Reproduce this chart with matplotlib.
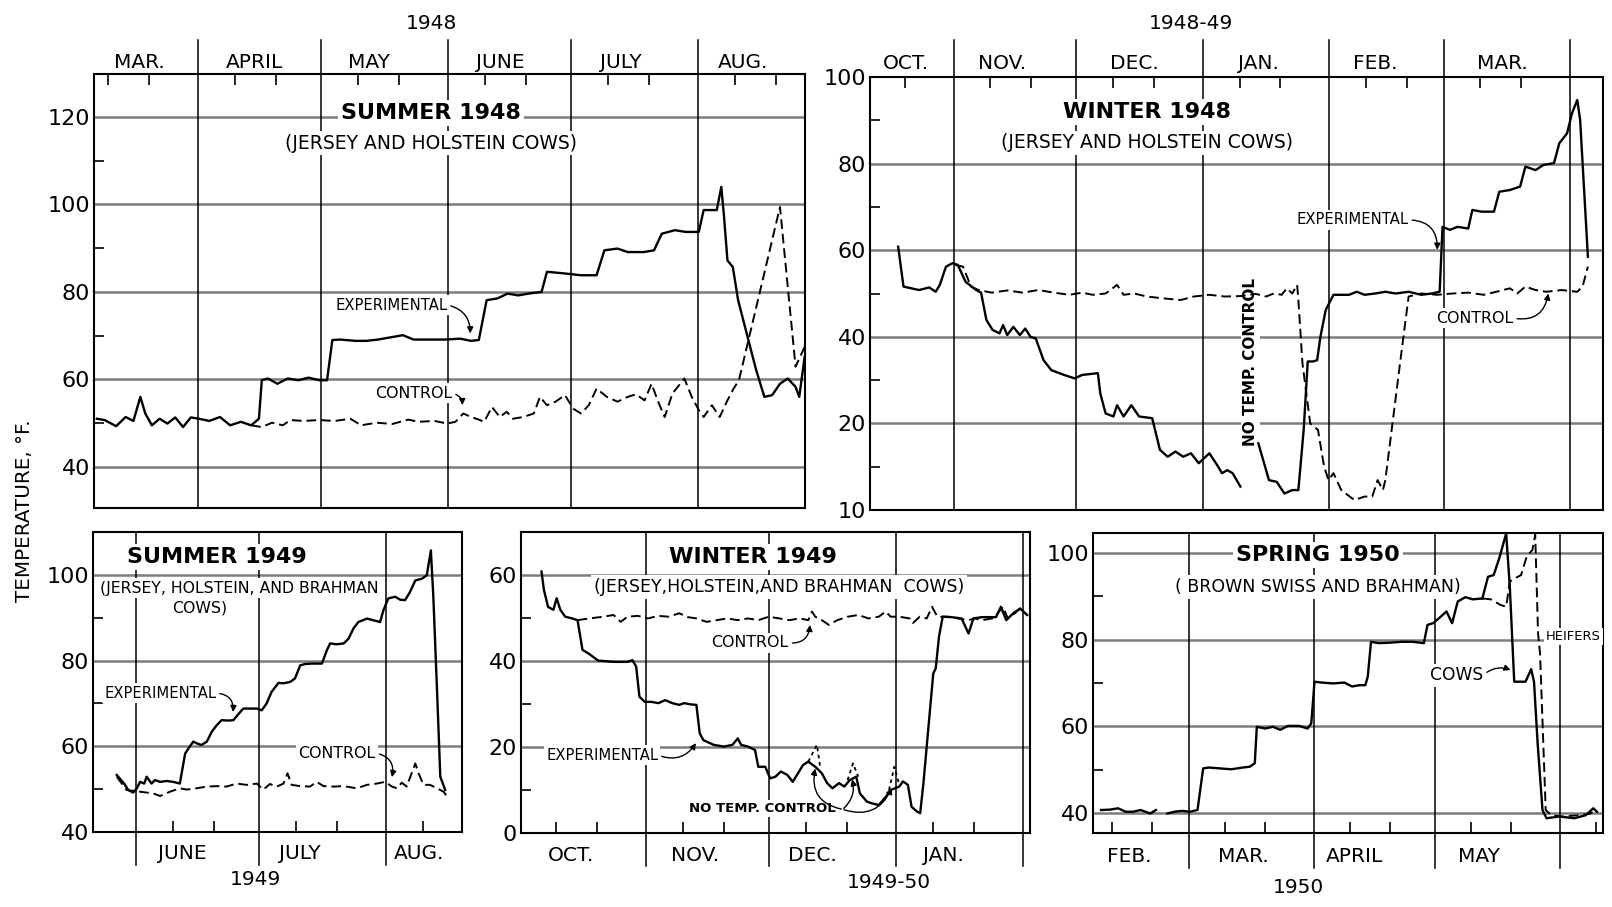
import numpy as np
import matplotlib
matplotlib.use("Agg")
import matplotlib.pyplot as plt
from matplotlib import font_manager

W, H = 1612, 907

# Summer 1948, days from 1 March 1948
s48_exp_day = [6.4, 8.3, 11.1, 13.4, 15.3, 17.0, 18.2, 19.8, 21.7, 23.6, 25.5, 27.4, 29.3, 31.3, 33.8,
               36.4, 38.9, 41.5, 44.0, 45.9, 46.6, 48.1, 50.4, 52.9, 55.5, 58.0, 60.6, 62.5, 63.8, 65.7,
               69.5, 72.1, 74.9, 81.0, 83.6, 87.4, 91.2, 95.0, 97.6, 99.5, 101.4, 104.0, 106.5, 109.1, 111.6,
               114.8, 116.1, 120.5, 124.4, 128.2, 130.1, 133.3, 135.8, 139.7, 142.2, 144.1, 147.3, 149.9, 153.1, 154.3,
               157.5, 158.6, 159.2, 160.1, 161.4, 162.7, 165.2, 167.1, 169.1, 171.0, 172.9, 174.8, 176.7, 177.6, 178.9]
s48_exp = [51.0, 50.7, 49.3, 51.4, 50.5, 56.0, 52.2, 49.5, 51.0, 49.9, 51.3, 49.1, 51.3, 51.0, 50.5,
           51.4, 49.5, 50.3, 49.5, 51.0, 59.8, 60.2, 59.0, 60.2, 59.8, 60.4, 59.8, 59.8, 69.0, 69.1,
           68.8, 68.8, 69.1, 70.1, 69.1, 69.1, 69.1, 69.3, 68.8, 69.0, 78.1, 78.5, 79.6, 79.2, 79.6,
           80.0, 84.6, 84.2, 83.8, 83.8, 89.5, 89.9, 89.1, 89.1, 89.5, 93.3, 94.1, 93.7, 93.7, 98.7,
           98.7, 104.0, 97.9, 87.2, 85.7, 78.1, 69.0, 62.1, 56.0, 56.4, 59.0, 60.2, 58.3, 56.0, 65.1]
s48_ctl_day = [44.0, 46.6, 49.1, 51.7, 53.6, 56.8, 60.6, 64.4, 68.2, 70.8, 74.6, 78.4, 82.3, 84.8, 88.7,
               91.8, 93.8, 95.7, 97.6, 99.5, 100.8, 102.7, 104.6, 106.3, 107.8, 110.3, 112.9, 114.4, 116.1, 118.2,
               120.5, 122.5, 124.4, 126.3, 128.2, 130.7, 133.3, 135.8, 137.8, 139.9, 141.6, 143.2, 144.8, 146.7, 148.0,
               149.6, 151.4, 153.1, 154.3, 156.3, 158.2, 160.1, 161.6, 162.9, 172.9, 176.7, 178.9]
s48_ctl = [49.5, 49.1, 50.1, 49.5, 50.7, 50.5, 50.7, 50.5, 51.0, 49.5, 50.1, 49.8, 50.8, 50.3, 50.5,
           49.9, 50.3, 52.2, 51.4, 50.8, 50.3, 53.7, 51.4, 52.6, 51.0, 51.4, 52.2, 56.0, 54.1, 54.9,
           56.4, 53.3, 52.2, 54.1, 57.9, 56.0, 54.9, 56.0, 56.6, 55.2, 59.0, 54.9, 51.4, 56.8, 58.3,
           60.2, 56.0, 53.0, 51.4, 54.1, 51.4, 55.2, 57.9, 59.8, 99.4, 62.9, 67.4]

# Winter 1948-49, days from 1 October 1948
w48_exp_day = [17.4, 18.7, 22.5, 25.0, 26.6, 27.6, 29.1, 30.7, 32.0, 33.9, 36.5, 37.7, 39.0, 40.5, 42.2,
               43.1, 44.1, 45.6, 47.2, 48.5, 49.8, 51.1, 53.0, 54.9, 58.0, 60.6, 62.5, 66.3, 66.9, 68.2,
               70.1, 71.0, 72.6, 74.5, 76.4, 79.6, 81.5, 83.4, 85.3, 87.2, 89.1, 91.0, 93.6, 95.5, 96.7,
               98.0, 99.3, 101.2, 103.0, 105.6, 108.2, 110.1, 112.0, 113.9, 115.4, 116.7, 117.7, 119.0, 120.0, 120.8,
               122.1, 124.0, 127.8, 129.7, 131.6, 134.2, 136.7, 139.2, 142.4, 145.5, 148.1, 150.0, 150.7, 152.5, 154.4,
               157.0, 158.0, 160.2, 163.3, 164.6, 167.2, 169.7, 171.0, 173.5, 175.4, 178.0, 179.3, 181.2, 182.4, 183.7,
               184.4, 186.3]
w48_exp = [60.8, 51.6, 50.8, 51.4, 50.4, 52.0, 56.2, 57.0, 56.6, 52.7, 50.8, 50.2, 43.9, 41.6, 40.8,
           42.7, 40.4, 42.3, 40.4, 41.9, 40.0, 39.6, 34.6, 32.3, 31.2, 30.4, 31.2, 31.6, 26.9, 22.3,
           21.6, 24.2, 21.6, 24.2, 21.6, 21.2, 13.9, 12.3, 13.5, 12.3, 13.1, 10.8, 13.1, 10.4, 8.5,
           9.2, 8.5, 5.4, None, 15.4, 6.9, 6.5, 3.8, 4.6, 4.6, 18.5, 34.3, 34.3, 34.6, 40.0,
           46.2, 49.7, 49.7, 50.4, 49.7, 50.0, 50.4, 50.0, 50.4, 49.7, 50.0, 50.4, 65.4, 64.7, 65.4,
           65.0, 69.3, 68.9, 68.9, 73.5, 73.9, 74.7, 79.3, 78.5, 79.7, 80.1, 84.7, 87.0, 91.6, 94.7,
           90.1, 58.5]
w48_ctl_day = [31.4, 33.3, 35.2, 37.1, 40.3, 44.1, 47.9, 51.7, 55.5, 59.3, 62.5, 65.0, 68.2, 71.0, 72.6,
               75.2, 78.3, 82.1, 86.6, 89.8, 93.6, 97.4, 101.2, 105.0, 107.5, 109.4, 111.3, 112.6, 113.9, 115.1,
               115.4, 116.4, 118.3, 120.2, 121.7, 122.8, 124.0, 125.9, 129.1, 131.6, 133.5, 134.8, 136.1, 136.7, 140.5,
               142.4, 145.5, 149.4, 153.2, 157.0, 160.8, 163.9, 167.2, 169.0, 171.0, 173.5, 176.1, 179.9, 183.7, 185.0,
               186.3]
w48_ctl = [56.6, 56.2, 51.6, 50.8, 50.2, 50.7, 50.2, 50.8, 50.2, 49.7, 50.2, 49.7, 50.0, 52.0, 49.7,
           50.0, 49.3, 48.9, 48.5, 49.3, 49.7, 49.3, 49.4, 49.9, 49.3, 50.0, 49.7, 51.2, 50.0, 52.0,
           48.5, 33.9, 20.0, 18.5, 10.0, 6.9, 8.5, 4.6, 2.3, 3.1, 3.1, 6.9, 4.6, 6.9, 35.4,
           49.3, 50.0, 49.7, 50.0, 50.2, 49.7, 50.4, 51.2, 50.0, 51.6, 50.8, 50.4, 50.8, 50.4, 51.6,
           56.2]

# Summer 1949, days from 1 June 1949
s49_exp_day = [-4.7, -2.9, -1.9, -0.7, 0.2, 1.0, 2.0, 2.6, 3.8, 4.6, 5.9, 7.5, 9.1, 10.7, 12.0,
               12.8, 14.0, 14.8, 16.0, 17.3, 18.5, 19.7, 20.9, 22.6, 23.8, 25.0, 26.2, 27.9, 29.5, 30.7,
               31.9, 33.1, 34.8, 36.0, 37.6, 38.8, 40.1, 41.3, 42.9, 45.4, 46.6, 47.4, 49.0, 50.7, 51.9,
               53.1, 54.3, 56.4, 58.0, 59.6, 60.4, 61.6, 63.3, 64.5, 65.7, 66.9, 68.2, 69.8, 71.0, 72.0,
               72.6, 73.5, 74.3, 75.5]
s49_exp = [53.3, 51.3, 49.8, 49.2, 50.2, 51.7, 51.3, 52.9, 51.3, 52.1, 51.7, 51.9, 51.7, 51.3, 58.3,
           59.5, 61.1, 60.7, 60.3, 61.1, 63.4, 64.9, 66.1, 66.0, 66.1, 67.5, 68.8, 68.8, 68.8, 68.4,
           70.0, 72.7, 74.8, 74.7, 75.0, 75.8, 78.9, 79.2, 79.3, 79.3, 82.4, 84.0, 83.8, 84.0, 85.1,
           87.5, 89.0, 89.8, 89.4, 89.0, 91.7, 94.5, 94.9, 94.2, 94.1, 96.0, 98.7, 99.1, 99.9, 105.7,
           94.9, 73.1, 52.9, 49.8]
s49_ctl_day = [-4.7, -2.3, 1.0, 4.2, 5.9, 8.3, 10.7, 12.4, 14.8, 17.3, 19.7, 22.1, 24.6, 27.0, 29.5,
               31.1, 32.7, 34.4, 36.0, 37.0, 38.0, 40.1, 42.5, 44.1, 45.8, 48.2, 50.7, 53.9, 56.4, 58.8,
               60.8, 62.5, 63.7, 64.9, 66.1, 67.3, 68.2, 69.0, 70.2, 71.8, 73.5, 75.1, 76.3]
s49_ctl = [52.9, 49.8, 49.4, 49.0, 48.4, 49.4, 50.2, 49.9, 50.2, 50.6, 50.7, 50.6, 51.3, 51.0, 51.3,
           49.9, 51.2, 50.6, 51.3, 53.7, 51.0, 50.7, 50.6, 51.7, 50.7, 50.6, 50.7, 50.2, 51.0, 51.3,
           51.7, 50.6, 50.2, 51.5, 50.6, 53.7, 56.0, 53.7, 51.0, 51.0, 50.2, 49.4, 47.8]

# Winter 1949-50, days from 1 October 1949
w49_exp_day = [5.5, 6.1, 7.1, 8.4, 9.2, 10.1, 11.3, 13.0, 14.3, 15.5, 17.2, 19.3, 23.1, 26.5, 27.7,
               28.6, 29.4, 30.7, 32.3, 34.0, 35.7, 37.4, 39.1, 40.3, 42.0, 43.3, 44.1, 45.0, 47.5, 50.0,
               52.1, 53.4, 54.2, 55.9, 57.6, 58.4, 60.1, 61.3, 62.6, 63.9, 65.5, 66.8, 68.1, 69.3, 70.6,
               72.3, 73.9, 75.2, 76.5, 78.1, 79.4, 80.7, 82.3, 83.2, 84.9, 86.1, 87.8, 89.5, 90.7, 92.8,
               93.7, 94.9, 95.8, 97.1, 97.9, 98.7, 100.0, 101.1, 101.7, 102.5, 103.4, 105.5, 108.0, 109.7, 110.9,
               113.0, 116.4, 117.6, 118.9, 120.6, 122.3, 124.0]
w49_exp = [60.8, 56.5, 52.6, 51.9, 54.6, 51.9, 50.3, 49.9, 49.5, 42.6, 41.6, 40.1, 39.8, 39.8, 40.2,
           38.7, 31.7, 30.5, 30.5, 30.2, 30.9, 30.2, 29.8, 30.2, 29.9, 29.8, 23.2, 21.6, 20.5, 20.1,
           20.5, 22.0, 20.5, 20.1, 19.3, 15.4, 15.4, 12.7, 13.1, 14.3, 13.5, 11.9, 13.9, 15.8, 16.6,
           15.4, 13.9, 11.6, 10.4, 11.6, 10.8, 12.3, 13.1, 9.2, 7.3, 6.9, 6.5, 8.4, 10.0, 10.8,
           12.0, 11.2, 6.1, 5.0, 4.6, 11.6, 25.5, 37.1, 38.3, 45.7, 50.3, 50.2, 49.9, 46.4, 49.9,
           50.2, 50.2, 52.6, 49.5, 51.1, 52.2, 50.7]
w49_free_day = [70.6, 72.7, 73.5, 76.0, 80.2, 81.5, 82.8, 86.0, 90.3, 91.6, 92.7]
w49_free = [16.6, 20.5, 15.4, None, 12.3, 16.2, 13.1, None, 10.0, 15.4, 11.6]
w49_ctl_day = [14.3, 17.2, 20.6, 23.1, 24.8, 26.5, 29.0, 31.5, 34.0, 36.5, 39.1, 41.2, 43.3, 45.8, 48.3,
               50.8, 53.4, 55.9, 58.4, 61.0, 63.5, 66.0, 68.5, 70.6, 71.5, 72.3, 73.9, 75.6, 77.7, 80.2,
               82.8, 85.3, 87.8, 89.5, 90.7, 92.8, 95.3, 96.1, 97.8, 99.5, 100.8, 102.1, 104.6, 107.1, 109.7,
               111.3, 113.0, 115.5, 116.8, 118.1, 119.3, 121.0, 122.3, 124.0]
w49_ctl = [49.5, 49.9, 50.3, 50.7, 49.1, 50.3, 50.5, 49.9, 50.5, 50.3, 51.1, 50.2, 49.9, 49.1, 49.5,
           49.9, 49.5, 49.9, 49.5, 50.3, 49.9, 49.5, 49.9, 49.5, 51.5, 50.3, 49.5, 48.4, 49.5, 50.3,
           50.7, 49.9, 50.3, 51.5, 50.3, 50.3, 49.9, 48.8, 50.3, 49.9, 52.6, 50.3, 50.3, 49.9, 49.5,
           49.9, 49.5, 49.9, 51.1, 52.6, 49.9, 51.1, 52.2, 50.7]

# Spring 1950, days from 1 February 1950
sp50_day = [6.3, 8.6, 10.5, 12.4, 14.2, 16.1, 18.5, 19.9, 21.3, 22.7, 24.5, 26.4, 28.3, 30.2, 31.6,
            33.0, 35.8, 38.6, 41.4, 43.2, 44.4, 44.9, 47.0, 48.9, 50.7, 52.6, 55.4, 57.5, 58.4, 59.2,
            61.0, 63.8, 66.6, 68.5, 70.4, 71.8, 72.4, 73.2, 75.1, 77.9, 80.7, 83.5, 86.3, 87.2, 88.6,
            90.0, 91.9, 93.3, 94.7, 96.6, 98.4, 100.8]
sp50_both = [40.7, 40.8, 41.1, 40.3, 40.3, 40.7, 39.9, 40.7, None, 39.9, 40.3, 40.5, 40.3, 40.7, 50.3,
             50.5, 50.3, 50.1, 50.5, 50.7, 51.5, 59.9, 59.5, 59.9, 59.2, 60.1, 60.1, 59.5, 60.7, 70.3,
             70.1, 69.9, 70.1, 69.2, 69.5, 69.5, 71.5, 79.5, 79.2, 79.3, 79.5, 79.5, 79.2, 83.4, 83.8,
             84.9, 86.5, 83.8, 88.8, 89.8, 89.3, 89.5]
sp50_cow_day = [100.8, 102.2, 103.6, 105.0, 106.7, 107.6, 108.7, 111.5, 112.9, 113.6, 114.5, 115.7, 116.7,
                119.9, 123.6, 126.4, 128.3, 129.2]
sp50_cow = [89.5, 94.5, 94.9, 98.8, 104.5, 92.2, 70.3, 70.3, 73.2, 70.3, 56.1, 40.7, 38.8,
            39.2, 38.8, 39.5, 41.1, 40.3]
sp50_hef_day = [100.8, 102.9, 105.3, 106.7, 107.6, 109.0, 110.4, 111.8, 113.2, 113.9, 114.6, 115.1, 115.9,
                116.5, 117.9, 120.7, 124.5, 127.3, 129.1]
sp50_hef = [89.5, 89.3, 88.0, 87.6, 93.4, 94.2, 94.9, 99.2, 100.7, 104.2, 81.5, 76.8, 56.1,
            40.7, 39.5, 39.2, 39.5, 39.8, 40.7]

# condensed lettering for the curve labels, if the narrow face is present
_names = {f.name for f in font_manager.fontManager.ttflist}
if "Liberation Sans Narrow" in _names:
    NARROW, NSCALE = "Liberation Sans Narrow", 1.0
else:
    NARROW, NSCALE = "DejaVu Sans", 0.82

BOX = dict(boxstyle="square,pad=0.15", fc="white", ec="none")
SOLID = dict(color="black", lw=1.7, zorder=4)
DASHED = dict(color="black", lw=1.4, ls=(0, (5, 2.5)), zorder=4)
ARROW = dict(arrowstyle="-|>", color="black", lw=1.0, mutation_scale=9, shrinkA=1, shrinkB=0)

fig = plt.figure(figsize=(W / 100, H / 100), dpi=100)


def make_axes(left, top, right, bottom):
    return fig.add_axes([left / W, 1 - bottom / H, (right - left) / W, (bottom - top) / H])


def dress(ax, xlim, ylim, grid_y, ytick, ylab, yminor, starts, bounds, top, ext):
    ax.set_xlim(xlim)
    ax.set_ylim(ylim)
    for y in grid_y:
        ax.axhline(y, color="#7d7d7d", lw=1.8, zorder=1)
    for x in bounds:
        if top:
            ax.axvline(x, 0, 1 + ext, color="black", lw=1.1, clip_on=False, zorder=1)
        else:
            ax.axvline(x, -ext, 1, color="black", lw=1.1, clip_on=False, zorder=1)
    minor = [s + k for s in starts for k in (9, 19) if xlim[0] < s + k < xlim[1]]
    ax.set_xticks([])
    ax.set_xticks(minor, minor=True)
    ax.tick_params(axis="x", which="minor", direction="in", length=8, width=1.2,
                   top=top, bottom=not top)
    ax.set_yticks(ytick, ylab)
    ax.set_yticks(yminor, minor=True)
    ax.tick_params(axis="y", which="major", length=0, pad=3, labelsize=16)
    ax.tick_params(axis="y", which="minor", direction="in", length=7, width=1.2)
    for sp in ax.spines.values():
        sp.set_linewidth(1.5)


def months(ax, names, xs, dy, year, year_x, year_dy):
    yref = 1 if dy > 0 else 0
    for n, x in zip(names, xs):
        ax.annotate(n, xy=(x, yref), xycoords=("data", "axes fraction"), xytext=(0, dy),
                    textcoords="offset points", ha="center", va="center", fontsize=14.5,
                    annotation_clip=False)
    ax.annotate(year, xy=(year_x, yref), xycoords=("data", "axes fraction"), xytext=(0, year_dy),
                textcoords="offset points", ha="center", va="center", fontsize=14.5,
                annotation_clip=False)


def label(ax, x, y, s, size, bold=False):
    ax.text(x, y, s, transform=ax.transAxes, ha="center", va="center", fontsize=size,
            fontweight="bold" if bold else "normal", bbox=BOX, zorder=3)


def note(ax, text, xy, xytext, rad, size=13, ha="right", relpos=(1, 0.5)):
    ax.annotate(text, xy=xy, xytext=xytext, ha=ha, va="center", fontsize=size * NSCALE,
                family=NARROW, bbox=BOX, zorder=3,
                arrowprops=dict(ARROW, connectionstyle=f"arc3,rad={rad}", relpos=relpos))


def arr(v):
    return np.array(v, dtype=float)


# Summer 1948
ax1 = make_axes(94, 74, 805, 508)
dress(ax1, (5.7, 179), (30.6, 129.8), [40, 60, 80, 100, 120], [40, 60, 80, 100, 120],
      ["40", "60", "80", "100", "120"], [50, 70, 90, 110], [0, 31, 61, 92, 122, 153],
      [31, 61, 92, 122, 153], True, 34 / 434)
months(ax1, ["MAR.", "APRIL", "MAY", "JUNE", "JULY", "AUG."], [16.7, 44.7, 72.8, 104.7, 134.0, 164.0],
       8.6, "1948", 87.9, 36.5)
label(ax1, 0.474, 0.910, "SUMMER 1948", 16, bold=True)
label(ax1, 0.474, 0.841, "(JERSEY AND HOLSTEIN COWS)", 13.5)
ax1.plot(arr(s48_ctl_day), arr(s48_ctl), **DASHED)
ax1.plot(arr(s48_exp_day), arr(s48_exp), **SOLID)
note(ax1, "EXPERIMENTAL", (97.4, 70.5), (91.8, 77.0), -0.4)
note(ax1, "CONTROL", (95.5, 54.1), (93.0, 56.8), -0.4, size=14)

# Winter 1948-49
ax2 = make_axes(870, 77, 1603, 510)
dress(ax2, (10.5, 190), (0, 100), [20, 40, 60, 80], [0, 20, 40, 60, 80, 100],
      ["10", "20", "40", "60", "80", "100"], [10, 30, 50, 70, 90], [0, 31, 61, 92, 123, 151, 182],
      [31, 61, 92, 123, 151, 182], True, 37 / 433)
months(ax2, ["OCT.", "NOV.", "DEC.", "JAN.", "FEB.", "MAR."], [19.3, 42.8, 75.2, 105.5, 134.2, 165.3],
       10, "1948-49", 89.1, 38.5)
label(ax2, 0.378, 0.919, "WINTER 1948", 16, bold=True)
label(ax2, 0.378, 0.848, "(JERSEY AND HOLSTEIN COWS)", 13.5)
ax2.plot(arr(w48_ctl_day), arr(w48_ctl), **DASHED)
ax2.plot(arr(w48_exp_day), arr(w48_exp), **SOLID)
note(ax2, "EXPERIMENTAL", (149.4, 60.1), (142.4, 67.0), -0.5)
note(ax2, "CONTROL", (176.6, 50.0), (158.6, 44.3), 0.5, size=14, ha="center")
ax2.text(103.7, 34.2, "NO TEMP. CONTROL", rotation=90, ha="center", va="center", fontsize=11,
         fontweight="bold", bbox=BOX, zorder=3)

# Summer 1949
ax3 = make_axes(93, 532, 462, 832)
dress(ax3, (-10.5, 79.6), (40, 110), [60, 80, 100], [40, 60, 80, 100], ["40", "60", "80", "100"],
      [50, 70, 90], [-31, 0, 30, 61], [0, 30, 61], False, 33 / 300)
months(ax3, ["JUNE", "JULY", "AUG."], [11.2, 40.1, 69.1], -15.5, "1949", 29.1, -34.5)
label(ax3, 0.336, 0.917, "SUMMER 1949", 16, bold=True)
label(ax3, 0.395, 0.813, "(JERSEY, HOLSTEIN, AND BRAHMAN", 11.3)
label(ax3, 0.29, 0.747, "COWS)", 11.3)
ax3.plot(arr(s49_ctl_day), arr(s49_ctl), **DASHED)
ax3.plot(arr(s49_exp_day), arr(s49_exp), **SOLID)
note(ax3, "EXPERIMENTAL", (23.7, 68.0), (5.9, 72.4), -0.5, ha="center")
note(ax3, "CONTROL", (62.5, 52.8), (49.1, 58.4), -0.5, size=14, ha="center")

# Winter 1949-50
ax4 = make_axes(521, 532, 1030, 833)
dress(ax4, (0.5, 124.7), (0, 70), [20, 40, 60], [0, 20, 40, 60], ["0", "20", "40", "60"],
      [10, 30, 50], [0, 31, 61, 92, 123], [31, 61, 92, 123], False, 33 / 301)
months(ax4, ["OCT.", "NOV.", "DEC.", "JAN."], [12.7, 43.0, 71.5, 103.7], -16.5, "1949-50", 90.3, -36)
label(ax4, 0.456, 0.917, "WINTER 1949", 16, bold=True)
label(ax4, 0.507, 0.817, "(JERSEY,HOLSTEIN,AND BRAHMAN  COWS)", 12.5)
ax4.plot(arr(w49_ctl_day), arr(w49_ctl), **DASHED)
ax4.plot(arr(w49_exp_day), arr(w49_exp), **SOLID)
ax4.plot(arr(w49_free_day), arr(w49_free), color="black", lw=1.3, ls=(0, (2, 2)), zorder=4)
note(ax4, "CONTROL", (71.0, 48.4), (56.4, 44.2), 0.5, size=14, ha="center")
note(ax4, "EXPERIMENTAL", (43.2, 20.9), (20.3, 18.1), 0.4, ha="center")
ax4.text(59.5, 5.8, "NO TEMP. CONTROL", ha="center", va="center", fontsize=9.5, fontweight="bold",
         bbox=BOX, zorder=3)
for tip, rad in [((72.3, 15.0), -0.5), ((81.3, 12.5), 0.3), ((91.0, 10.5), 0.45)]:
    ax4.annotate("", xy=tip, xytext=(79.0, 5.5),
                 arrowprops=dict(ARROW, connectionstyle=f"arc3,rad={rad}"))

# Spring 1950
ax5 = make_axes(1093, 533, 1603, 833)
dress(ax5, (4.3, 130.7), (35.4, 104.6), [40, 60, 80, 100], [40, 60, 80, 100],
      ["40", "60", "80", "100"], [50, 70, 90], [0, 28, 59, 89, 120], [28, 59, 89, 120], False, 35 / 300)
months(ax5, ["FEB.", "MAR.", "APRIL", "MAY"], [13.2, 41.5, 69.0, 100.0], -17, "1950", 55.3, -39)
label(ax5, 0.441, 0.927, "SPRING 1950", 16, bold=True)
label(ax5, 0.441, 0.820, "( BROWN SWISS AND BRAHMAN)", 12.5)
ax5.plot(arr(sp50_day), arr(sp50_both), **SOLID)
ax5.plot(arr(sp50_hef_day), arr(sp50_hef), **DASHED)
ax5.plot(arr(sp50_cow_day), arr(sp50_cow), **SOLID)
note(ax5, "COWS", (107.8, 73.0), (94.4, 71.8), -0.3, size=15, ha="center")
ax5.text(123.4, 80.7, "HEIFERS", ha="center", va="center", fontsize=11.5 * NSCALE, family=NARROW,
         bbox=BOX, zorder=3)

fig.text(25 / W, 1 - 511 / H, "TEMPERATURE, °F.", rotation=90, ha="center", va="center",
         fontsize=17.5 * NSCALE, family=NARROW)

fig.savefig("out.png", dpi=100)
